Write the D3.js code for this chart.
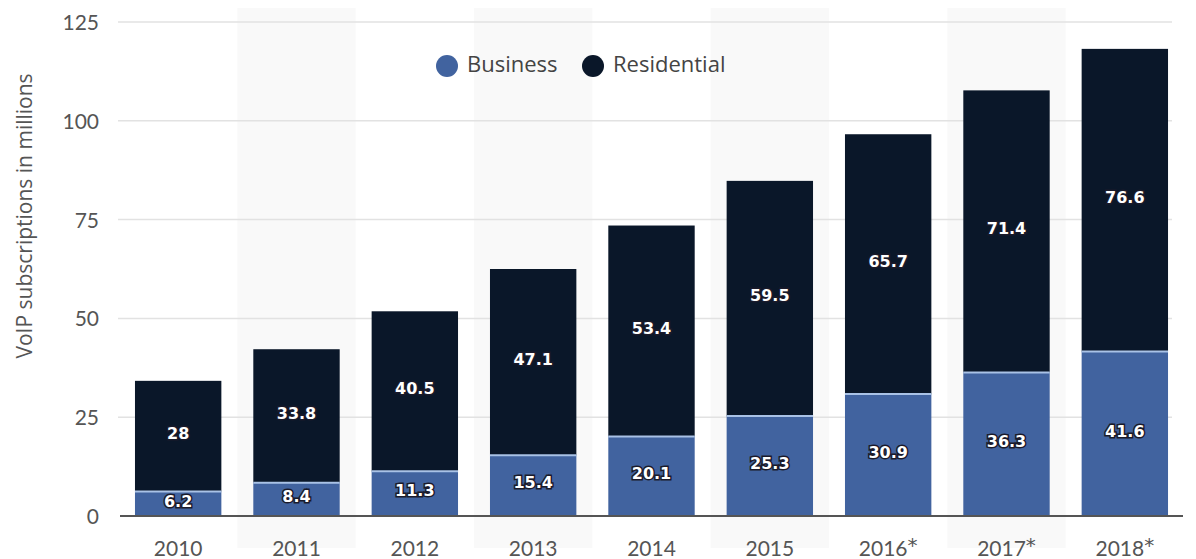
<!DOCTYPE html>
<html>
<head>
<meta charset="utf-8">
<style>
  body { margin: 0; background: #fff; }
  svg { display: block; }
  text { font-family: Lato, "Open Sans", sans-serif; }
  .tick text { fill: #555; font-size: 21px; }
  .valueLabel {
    font-family: "DejaVu Sans", Verdana, sans-serif;
    font-weight: bold;
    font-size: 16px;
    fill: #fff;
    stroke: #1a1a2a;
    stroke-width: 3px;
    paint-order: stroke;
  }
</style>
</head>
<body>
<svg width="1196" height="559"></svg>
<script src="https://cdn.jsdelivr.net/npm/d3@7"></script>
<script>
var years = ['2010', '2011', '2012', '2013', '2014', '2015', '2016', '2017', '2018'];
var forecast = [false, false, false, false, false, false, true, true, true];
var business = [6.2, 8.4, 11.3, 15.4, 20.1, 25.3, 30.9, 36.3, 41.6];
var residential = [28, 33.8, 40.5, 47.1, 53.4, 59.5, 65.7, 71.4, 76.6];
var yTicks = [0, 25, 50, 75, 100, 125];
var seriesNames = ['Business', 'Residential'];
var seriesColors = ['#41639f', '#0a1729'];

var svg = d3.select('svg');

var x = d3.scaleBand().domain(years).range([119, 1184]).paddingInner(0.27).paddingOuter(0.135);
var y = d3.scaleLinear().domain([0, 125]).range([516, 22]);

// alternating background stripes (very faint)
svg.append('g').selectAll('rect')
  .data(years.filter(function(d, i) { return i % 2 === 1; }))
  .enter().append('rect')
    .attr('x', function(d) { return x(d) + x.bandwidth() / 2 - x.step() / 2; })
    .attr('y', 8)
    .attr('width', x.step())
    .attr('height', 540)
    .attr('fill', '#f9f9f9');

// gridlines
svg.append('g').selectAll('line')
  .data(yTicks.filter(function(d) { return d > 0; }))
  .enter().append('line')
    .attr('x1', 118).attr('x2', 1172)
    .attr('y1', function(d) { return y(d); })
    .attr('y2', function(d) { return y(d); })
    .attr('stroke', '#e2e2e2')
    .attr('stroke-width', 1.5);

// y axis labels
var yAxis = svg.append('g')
  .attr('transform', 'translate(99,0)')
  .call(d3.axisLeft(y).tickValues(yTicks).tickSize(0).tickPadding(0));
yAxis.select('.domain').remove();
yAxis.selectAll('text').attr('dy', '0.36em');

svg.append('text')
  .attr('transform', 'translate(32,216) rotate(-90)')
  .attr('text-anchor', 'middle')
  .attr('fill', '#555')
  .style('font-family', '"Open Sans", sans-serif')
  .style('font-size', '21px')
  .text('VoIP subscriptions in millions');

// stacked bars
var stackData = years.map(function(d, i) {
  return { year: d, Business: business[i], Residential: residential[i] };
});
var stacked = d3.stack().keys(seriesNames)(stackData);

var layers = svg.append('g').selectAll('g')
  .data(stacked)
  .enter().append('g')
    .attr('fill', function(d, i) { return seriesColors[i]; });

layers.selectAll('rect')
  .data(function(d) { return d; })
  .enter().append('rect')
    .attr('x', function(d) { return x(d.data.year); })
    .attr('y', function(d) { return y(d[1]); })
    .attr('width', x.bandwidth())
    .attr('height', function(d) { return y(d[0]) - y(d[1]); });

// light separator between segments
svg.append('g').selectAll('line')
  .data(stackData)
  .enter().append('line')
    .attr('x1', function(d) { return x(d.year); })
    .attr('x2', function(d) { return x(d.year) + x.bandwidth(); })
    .attr('y1', function(d) { return y(d.Business); })
    .attr('y2', function(d) { return y(d.Business); })
    .attr('stroke', '#a9c2e6')
    .attr('stroke-width', 2);

// baseline
svg.append('line')
  .attr('x1', 120).attr('x2', 1183)
  .attr('y1', y(0)).attr('y2', y(0))
  .attr('stroke', '#555').attr('stroke-width', 2);

// value labels
layers.selectAll('text')
  .data(function(d) { return d; })
  .enter().append('text')
    .attr('class', 'valueLabel')
    .attr('x', function(d) { return x(d.data.year) + x.bandwidth() / 2; })
    .attr('y', function(d) { return (y(d[0]) + y(d[1])) / 2 - 3; })
    .attr('text-anchor', 'middle')
    .attr('dy', '0.36em')
    .text(function(d) { return d3.format('')(+(d[1] - d[0]).toFixed(1)); });

// x axis labels
var xLabels = svg.append('g').selectAll('text')
  .data(years)
  .enter().append('text')
    .attr('x', function(d) { return x(d) + x.bandwidth() / 2; })
    .attr('y', 556)
    .attr('text-anchor', 'middle')
    .attr('fill', '#555')
    .style('font-size', '21px');
xLabels.append('tspan').text(function(d) { return d; });
xLabels.filter(function(d, i) { return forecast[i]; })
  .append('tspan')
    .attr('dy', -4)
    .style('font-family', '"DejaVu Sans", sans-serif')
    .style('font-size', '20px')
    .text('*');

// legend
var legend = svg.append('g');
var legendX = [447, 593];
seriesNames.forEach(function(name, i) {
  legend.append('circle')
    .attr('cx', legendX[i]).attr('cy', 66).attr('r', 11)
    .attr('fill', seriesColors[i]);
  legend.append('text')
    .attr('x', legendX[i] + 20).attr('y', 64)
    .attr('dy', '0.35em')
    .attr('fill', '#444')
    .style('font-family', '"Open Sans", sans-serif')
    .style('font-size', '22px')
    .text(name);
});
</script>
</body>
</html>
